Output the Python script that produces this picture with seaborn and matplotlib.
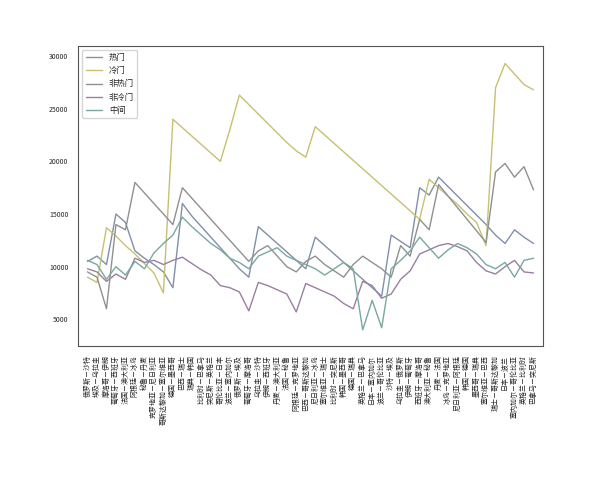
import matplotlib
matplotlib.use("Agg")
import matplotlib.pyplot as plt
import seaborn as sns
import pandas as pd

matches = [
    "俄罗斯－沙特", "埃及－乌拉圭", "摩洛哥－伊朗", "葡萄牙－西班牙", "法国－澳大利亚", "阿根廷－冰岛",
    "秘鲁－丹麦", "克罗地亚－尼日利亚", "哥斯达黎加－塞尔维亚", "德国－墨西哥", "巴西－瑞士", "瑞典－韩国",
    "比利时－巴拿马", "突尼斯－英格兰", "哥伦比亚－日本", "波兰－塞内加尔", "俄罗斯－埃及", "葡萄牙－摩洛哥",
    "乌拉圭－沙特", "伊朗－西班牙", "丹麦－澳大利亚", "法国－秘鲁", "阿根廷－克罗地亚", "巴西－哥斯达黎加",
    "尼日利亚－冰岛", "塞尔维亚－瑞士", "比利时－突尼斯", "韩国－墨西哥", "德国－瑞典", "英格兰－巴拿马",
    "日本－塞内加尔", "波兰－哥伦比亚", "沙特－埃及", "乌拉圭－俄罗斯", "伊朗－葡萄牙", "西班牙－摩洛哥",
    "澳大利亚－秘鲁", "丹麦－法国", "冰岛－克罗地亚", "尼日利亚－阿根廷", "韩国－德国", "墨西哥－瑞典",
    "塞尔维亚－巴西", "瑞士－哥斯达黎加", "日本－波兰", "塞内加尔－哥伦比亚", "英格兰－比利时", "巴拿马－突尼斯",
]

hot = [10500, 11000, 10200, 15000, 14200, 11500, 10800, 10200, 9500, 8000, 16000, 14800,
       13800, 12800, 11800, 10800, 9800, 9000, 13800, 13000, 12200, 11400, 10600, 9800,
       12800, 12000, 11200, 10400, 9600, 8800, 8000, 7200, 13000, 12400, 11800, 17500,
       16800, 18500, 17600, 16700, 15800, 14900, 14000, 13000, 12200, 13500, 12800, 12200]
cold = [9000, 8500, 13700, 12900, 12000, 11200, 10300, 9400, 7500, 24000, 23200, 22400,
        21600, 20800, 20000, 23000, 26300, 25400, 24500, 23600, 22700, 21800, 21000, 20400,
        23300, 22500, 21700, 20900, 20100, 19300, 18500, 17700, 16900, 16100, 15300, 14500,
        18300, 17500, 16700, 15900, 15000, 14200, 12000, 27000, 29300, 28300, 27300, 26800]
nonhot = [9500, 9000, 6000, 14000, 13500, 18000, 17000, 16000, 15000, 14000, 17500, 16500,
          15500, 14500, 13500, 12500, 11500, 10500, 11500, 12000, 11000, 10000, 9500, 10500,
          11000, 10200, 9600, 9000, 10200, 11000, 10400, 9800, 9000, 12000, 11000, 14500,
          13500, 17800, 16700, 15600, 14500, 13400, 12300, 19000, 19800, 18500, 19500, 17300]
noncold = [9800, 9500, 8600, 9300, 8800, 10800, 10400, 10600, 10200, 10600, 10900, 10300,
           9700, 9200, 8200, 8000, 7600, 5800, 8500, 8200, 7800, 7400, 5700, 8400,
           8000, 7600, 7200, 6500, 6000, 8600, 8200, 7000, 7400, 8800, 9600, 11200,
           11600, 12000, 12200, 11900, 11500, 10400, 9600, 9300, 10000, 10600, 9500, 9400]
middle = [10600, 10200, 8800, 10000, 9200, 10500, 9800, 11300, 12200, 13000, 14700, 13800,
          13000, 12200, 11600, 10800, 10400, 9800, 11000, 11400, 11800, 11000, 10600, 10200,
          9800, 9200, 9800, 10400, 9800, 4000, 6800, 4200, 9800, 10600, 11500, 12800,
          11800, 10800, 11600, 12200, 11800, 11200, 10200, 9800, 10400, 9000, 10600, 10800]

df = pd.DataFrame({"场次": matches, "热门": hot, "冷门": cold, "非热门": nonhot,
                   "非冷门": noncold, "中间": middle})
long = df.melt(id_vars="场次", var_name="类型", value_name="奖金")

sns.set_style("white")
plt.rcParams["font.family"] = ["Noto Sans CJK SC", "DejaVu Sans"]

fig, ax = plt.subplots(figsize=(6, 4.8), dpi=100)
palette = ["#8090a8", "#c8c070", "#909090", "#9a7fa0", "#78a8a0"]
sns.lineplot(data=long, x="場次" if False else "场次", y="奖金", hue="类型",
             palette=palette, sort=False, linewidth=1, ax=ax)
ax.set_xlabel("")
ax.set_ylabel("")
ax.set_ylim(2500, 31000)
ax.set_xlim(-1, len(matches))
ax.set_yticks([5000, 10000, 15000, 20000, 25000, 30000])
ax.tick_params(axis="y", labelsize=5)
ax.tick_params(axis="x", labelsize=5, rotation=90)
for s in ax.spines.values():
    s.set_color("#555555")
    s.set_linewidth(0.8)
ax.legend(title=None, loc="upper left", fontsize=6, frameon=True)
fig.subplots_adjust(left=0.13, right=0.905, top=0.905, bottom=0.28)
fig.savefig("out.png")
